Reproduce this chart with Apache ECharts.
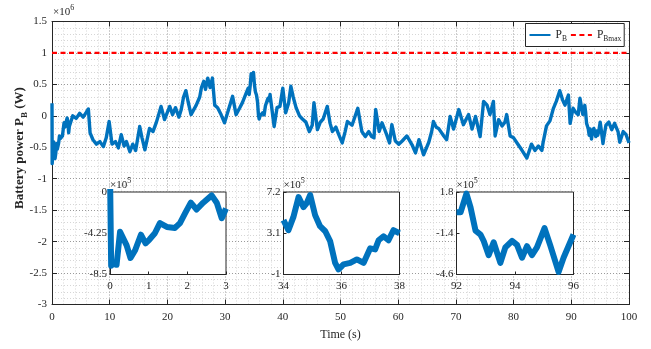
<!DOCTYPE html>
<html>
<head>
<meta charset="utf-8">
<script src="https://cdn.jsdelivr.net/npm/echarts@6/dist/echarts.min.js"></script>
<style>
  html, body { margin: 0; padding: 0; background: #fff; }
  #chart { width: 651px; height: 349px; }
</style>
</head>
<body>
<div id="chart"></div>
<script>
// Battery power P_B over the run, [time (s), power (x10^6 W)]
const mainSamples = [
  [3.6, 0.00], [4.2, -0.04], [4.8, 0.04], [5.4, -0.02], [5.9, 0.05], [6.3, 0.11],
  [6.6, -0.27], [7.1, -0.38], [7.7, -0.45], [8.3, -0.41], [8.9, -0.49], [9.4, -0.35],
  [9.9, -0.09], [10.4, -0.45], [11.0, -0.41], [11.5, -0.51], [12.0, -0.30], [12.5, -0.48],
  [12.9, -0.41], [13.5, -0.57], [14.0, -0.45], [14.5, -0.55], [15.2, -0.17], [15.6, -0.35],
  [16.1, -0.54], [16.9, -0.20], [17.5, -0.25], [18.1, -0.10], [18.9, 0.15], [19.5, -0.06],
  [20.4, 0.15], [20.9, 0.02], [21.4, 0.13], [22.0, -0.02], [22.4, 0.10], [22.8, 0.30],
  [23.2, 0.40], [23.6, 0.22], [24.1, 0.02], [25.0, 0.17], [25.6, 0.30], [25.9, 0.45],
  [26.3, 0.55], [26.6, 0.42], [27.0, 0.60], [27.4, 0.45], [27.8, 0.60], [28.2, 0.17],
  [28.7, 0.13], [29.3, 0.02], [29.9, -0.11], [30.6, 0.10], [31.3, 0.31], [31.9, 0.02],
  [32.5, 0.12], [33.0, 0.21], [33.6, 0.35],
  [38.5, -0.17], [39.0, 0.13], [39.5, 0.15], [40.0, 0.44], [40.5, 0.05], [41.0, 0.20],
  [41.4, 0.47], [41.8, 0.30], [42.3, 0.13], [42.9, 0.00], [43.4, -0.05], [44.0, -0.10],
  [44.6, -0.25], [45.1, -0.15], [45.4, 0.21], [46.0, -0.22], [46.5, -0.10], [47.0, -0.05],
  [47.7, 0.15], [48.2, -0.12], [48.6, -0.25], [49.2, -0.18], [49.7, -0.30], [50.3, -0.43],
  [50.8, -0.25], [51.2, -0.09], [52.0, -0.15], [53.0, 0.12], [53.7, -0.25], [54.3, -0.33],
  [54.9, -0.25], [55.4, -0.33], [55.8, -0.35], [56.1, 0.10], [56.7, -0.25], [57.2, -0.11],
  [58.0, -0.30], [58.5, -0.43], [58.9, -0.14], [59.5, -0.40], [60.1, -0.45], [60.7, -0.40],
  [61.5, -0.32], [62.4, -0.46], [63.0, -0.59], [63.6, -0.38], [64.4, -0.62], [65.3, -0.42],
  [65.8, -0.25], [66.1, -0.09], [66.6, -0.18], [67.0, -0.20], [67.9, -0.32], [68.4, -0.38],
  [69.0, -0.01], [69.6, -0.21], [70.5, 0.10], [71.3, -0.14], [72.2, 0.02], [72.8, -0.21],
  [73.4, -0.01], [74.2, -0.33], [74.8, 0.23], [75.4, 0.17], [75.9, 0.02], [76.5, 0.23],
  [76.8, -0.32], [77.4, -0.06], [78.0, -0.16], [78.5, -0.10], [78.8, 0.02], [79.4, -0.32],
  [80.0, -0.35], [80.8, -0.46], [81.4, -0.54], [82.3, -0.67], [83.1, -0.45], [83.7, -0.55],
  [84.3, -0.48], [84.9, -0.55], [85.1, -0.43], [85.7, -0.16], [86.3, -0.08], [86.9, 0.12],
  [87.4, 0.23], [88.0, 0.40], [88.5, 0.25], [88.9, 0.17], [89.5, 0.33], [89.8, -0.12],
  [90.3, 0.12], [90.8, 0.05], [91.2, 0.02], [91.5, 0.28],
  [96.5, -0.10], [97.0, -0.22], [97.5, -0.12], [98.1, -0.25], [98.4, -0.42], [99.0, -0.25],
  [99.5, -0.30], [100.0, -0.43]
];

// Close-up windows, [time (s), power (x10^5 W)]
const zoomStart = [
  [0, 2.0], [0.03, -7.6], [0.09, -7.4], [0.17, -7.5], [0.26, -4.1], [0.30, -4.1],
  [0.43, -5.5], [0.53, -6.8], [0.65, -6.0], [0.80, -4.4], [0.92, -5.3], [1.02, -4.9],
  [1.16, -4.25], [1.29, -3.2], [1.47, -3.6], [1.68, -3.7], [1.81, -3.2], [1.94, -2.2],
  [2.09, -1.1], [2.24, -1.8], [2.41, -1.1], [2.63, -0.35], [2.76, -1.1], [2.89, -2.7],
  [3.0, -1.7]
];
const zoomMiddle = [
  [34.0, 4.4], [34.17, 3.4], [34.34, 4.7], [34.52, 6.7], [34.69, 5.7], [34.80, 6.1],
  [34.92, 6.9], [35.09, 4.9], [35.26, 3.8], [35.44, 3.3], [35.61, 2.3], [35.78, 0.15],
  [35.90, -0.5], [36.07, 0.0], [36.30, 0.15], [36.53, 0.5], [36.76, 0.15], [36.99, 1.6],
  [37.16, 1.5], [37.28, 2.4], [37.45, 2.8], [37.62, 2.4], [37.79, 3.4], [38.0, 3.1]
];
const zoomEnd = [
  [92.0, 0.22], [92.14, 0.22], [92.34, 1.67], [92.48, 0.6], [92.65, -1.2], [92.82, -1.5],
  [92.93, -2.0], [93.10, -3.1], [93.27, -2.1], [93.50, -3.7], [93.67, -2.5], [93.90, -2.0],
  [94.07, -2.3], [94.24, -3.3], [94.41, -2.4], [94.58, -3.1], [94.75, -2.5], [95.01, -1.0],
  [95.20, -2.3], [95.49, -4.4], [95.66, -3.3], [96.0, -1.5]
];

// Upper limit P_Bmax (x10^6 W)
const powerLimit = 1;

// Axis ticks
const mainTimeTicks = [0, 100, 10];        // min, max, step
const mainPowerTicks = [-3, 1.5, 0.5];
const zoomStartXTicks = [0, 1, 2, 3];
const zoomStartYTicks = [-8.5, -4.25, 0];
const zoomMiddleXTicks = [34, 36, 38];
const zoomMiddleYTicks = [-1, 3.1, 7.2];
const zoomEndXTicks = [92, 94, 96];
const zoomEndYTicks = [-4.6, -1.4, 1.8];

// Full trace: close-up samples (rescaled to x10^6) merged in time order
const fullTrace = mainSamples
  .concat(zoomStart.map(p => [p[0], p[1] / 10]))
  .concat(zoomMiddle.map(p => [p[0], p[1] / 10]))
  .concat(zoomEnd.map(p => [p[0], p[1] / 10]))
  .sort((a, b) => a[0] - b[0]);

const FONT = 'Liberation Serif';
const INK = '#262626';
const BLUE = '#0072BD';

const chart = echarts.init(document.getElementById('chart'), null, { renderer: 'canvas' });

const mainX = {
  gridIndex: 0, type: 'value', min: mainTimeTicks[0], max: mainTimeTicks[1], interval: mainTimeTicks[2],
  axisLine: { show: true, onZero: false, lineStyle: { color: INK, width: 1 } },
  axisTick: { show: true, inside: true, length: 5, lineStyle: { color: INK } },
  axisLabel: { color: INK, fontFamily: FONT, fontSize: 11, margin: 7 },
  splitLine: { show: true, lineStyle: { color: '#9a9a9a', type: [1, 2], width: 1 } },
  minorTick: { show: false, splitNumber: 5 },
  minorSplitLine: { show: true, lineStyle: { color: '#d6d6d6', type: [1, 2], width: 1 } },
  name: 'Time (s)', nameLocation: 'middle', nameGap: 24,
  nameTextStyle: { color: INK, fontFamily: FONT, fontSize: 12 }
};
const mainY = {
  gridIndex: 0, type: 'value', min: mainPowerTicks[0], max: mainPowerTicks[1], interval: mainPowerTicks[2],
  axisLine: { show: true, onZero: false, lineStyle: { color: INK, width: 1 } },
  axisTick: { show: true, inside: true, length: 5, lineStyle: { color: INK } },
  axisLabel: { color: INK, fontFamily: FONT, fontSize: 11, margin: 5 },
  splitLine: { show: true, lineStyle: { color: '#9a9a9a', type: [1, 2], width: 1 } },
  minorTick: { show: false, splitNumber: 5 },
  minorSplitLine: { show: true, lineStyle: { color: '#d6d6d6', type: [1, 2], width: 1 } }
};
// Mirror axes for the box ticks on top and right
const topX = {
  gridIndex: 0, type: 'value', position: 'top', min: mainTimeTicks[0], max: mainTimeTicks[1], interval: mainTimeTicks[2],
  axisLine: { show: true, onZero: false, lineStyle: { color: INK, width: 1 } },
  axisTick: { show: true, inside: true, length: 5, lineStyle: { color: INK } },
  axisLabel: { show: false }, splitLine: { show: false }
};
const rightY = {
  gridIndex: 0, type: 'value', position: 'right', min: mainPowerTicks[0], max: mainPowerTicks[1], interval: mainPowerTicks[2],
  axisLine: { show: true, onZero: false, lineStyle: { color: INK, width: 1 } },
  axisTick: { show: true, inside: true, length: 5, lineStyle: { color: INK } },
  axisLabel: { show: false }, splitLine: { show: false }
};

function insetX(grid, ticks) {
  return {
    gridIndex: grid, type: 'value', min: ticks[0], max: ticks[ticks.length - 1], z: 4,
    axisLine: { show: true, onZero: false, lineStyle: { color: INK, width: 1 } },
    axisTick: { show: true, inside: true, length: 3, customValues: ticks, lineStyle: { color: INK } },
    axisLabel: { color: INK, fontFamily: FONT, fontSize: 11, margin: 6, customValues: ticks },
    splitLine: { show: false }
  };
}
function insetY(grid, ticks) {
  return {
    gridIndex: grid, type: 'value', min: ticks[0], max: ticks[ticks.length - 1], z: 4,
    axisLine: { show: true, onZero: false, lineStyle: { color: INK, width: 1 } },
    axisTick: { show: true, inside: true, length: 3, customValues: ticks, lineStyle: { color: INK } },
    axisLabel: { color: INK, fontFamily: FONT, fontSize: 11, margin: 3, customValues: ticks },
    splitLine: { show: false }
  };
}

function insetGrid(left, top, width, height) {
  return {
    left: left, top: top, width: width, height: height, z: 3,
    show: true, backgroundColor: '#fff', borderColor: INK, borderWidth: 1
  };
}

function powerOfTen(x, y, exp) {
  return {
    type: 'text', x: x, y: y, z: 10,
    style: {
      text: '{a|\u00d710}{b|' + exp + '}',
      fill: INK,
      rich: {
        a: { fontFamily: FONT, fontSize: 11, lineHeight: 14, verticalAlign: 'bottom', fill: INK },
        b: { fontFamily: FONT, fontSize: 8, lineHeight: 8, verticalAlign: 'top', fill: INK }
      }
    }
  };
}

const option = {
  animation: false,
  backgroundColor: '#fff',
  grid: [
    { left: 52, right: 22, top: 21.5, bottom: 44.5 },
    insetGrid(110, 192, 116, 82.5),
    insetGrid(283.5, 192, 116, 82.5),
    insetGrid(456.5, 192, 117, 82.5)
  ],
  xAxis: [mainX, topX, insetX(1, zoomStartXTicks), insetX(2, zoomMiddleXTicks), insetX(3, zoomEndXTicks)],
  yAxis: [mainY, rightY, insetY(1, zoomStartYTicks), insetY(2, zoomMiddleYTicks), insetY(3, zoomEndYTicks)],
  legend: {
    left: 525.5, top: 23.5,
    orient: 'horizontal',
    itemWidth: 21, itemHeight: 17, itemGap: 3,
    padding: [3, 3, 3, 3],
    backgroundColor: '#fff',
    borderColor: INK, borderWidth: 1, borderRadius: 0,
    itemStyle: { opacity: 0, borderWidth: 0 },
    lineStyle: { width: 2 },
    data: ['PB', 'PBmax'],
    formatter: function (name) {
      return name === 'PB' ? '{p|P}{s|B}' : '{p|P}{s|Bmax}';
    },
    textStyle: {
      color: INK,
      rich: {
        p: { fontFamily: FONT, fontSize: 11.5, lineHeight: 12, verticalAlign: 'top', color: INK },
        s: { fontFamily: FONT, fontSize: 7.5, lineHeight: 8, padding: [9, 0, 0, 0], color: INK }
      }
    }
  },
  graphic: [
    powerOfTen(53, 4, '6'),
    powerOfTen(110, 177, '5'),
    powerOfTen(283.5, 177, '5'),
    powerOfTen(456.5, 177, '5'),
    {
      type: 'text', x: 20, y: 148, rotation: Math.PI / 2, z: 10,
      style: {
        text: '{n|Battery power P}{s|B}{n| (W)}',
        align: 'center', verticalAlign: 'middle', fill: INK,
        rich: {
          n: { fontFamily: FONT, fontSize: 13, fontWeight: 'bold', lineHeight: 14, verticalAlign: 'top', fill: INK },
          s: { fontFamily: FONT, fontSize: 9, fontWeight: 'bold', lineHeight: 9, padding: [9, 0, 0, 0], fill: INK }
        }
      }
    }
  ],
  series: [
    {
      name: 'PB', type: 'line', xAxisIndex: 0, yAxisIndex: 0, data: fullTrace,
      showSymbol: false, symbol: 'none', z: 2,
      lineStyle: { color: BLUE, width: 3.4, join: 'round' }, itemStyle: { color: BLUE }
    },
    {
      name: 'PBmax', type: 'line', xAxisIndex: 0, yAxisIndex: 0,
      data: [[mainTimeTicks[0], powerLimit], [mainTimeTicks[1], powerLimit]],
      showSymbol: false, symbol: 'none', z: 3,
      lineStyle: { color: '#FF0000', width: 2.2, type: [5, 3.5] }, itemStyle: { color: '#FF0000' }
    },
    {
      type: 'line', xAxisIndex: 2, yAxisIndex: 2, data: zoomStart, showSymbol: false, symbol: 'none', z: 5,
      lineStyle: { color: BLUE, width: 6, join: 'round' }
    },
    {
      type: 'line', xAxisIndex: 3, yAxisIndex: 3, data: zoomMiddle, showSymbol: false, symbol: 'none', z: 5,
      lineStyle: { color: BLUE, width: 6, join: 'round' }
    },
    {
      type: 'line', xAxisIndex: 4, yAxisIndex: 4, data: zoomEnd, showSymbol: false, symbol: 'none', z: 5,
      lineStyle: { color: BLUE, width: 6, join: 'round' }
    }
  ]
};

chart.setOption(option);
</script>
</body>
</html>
